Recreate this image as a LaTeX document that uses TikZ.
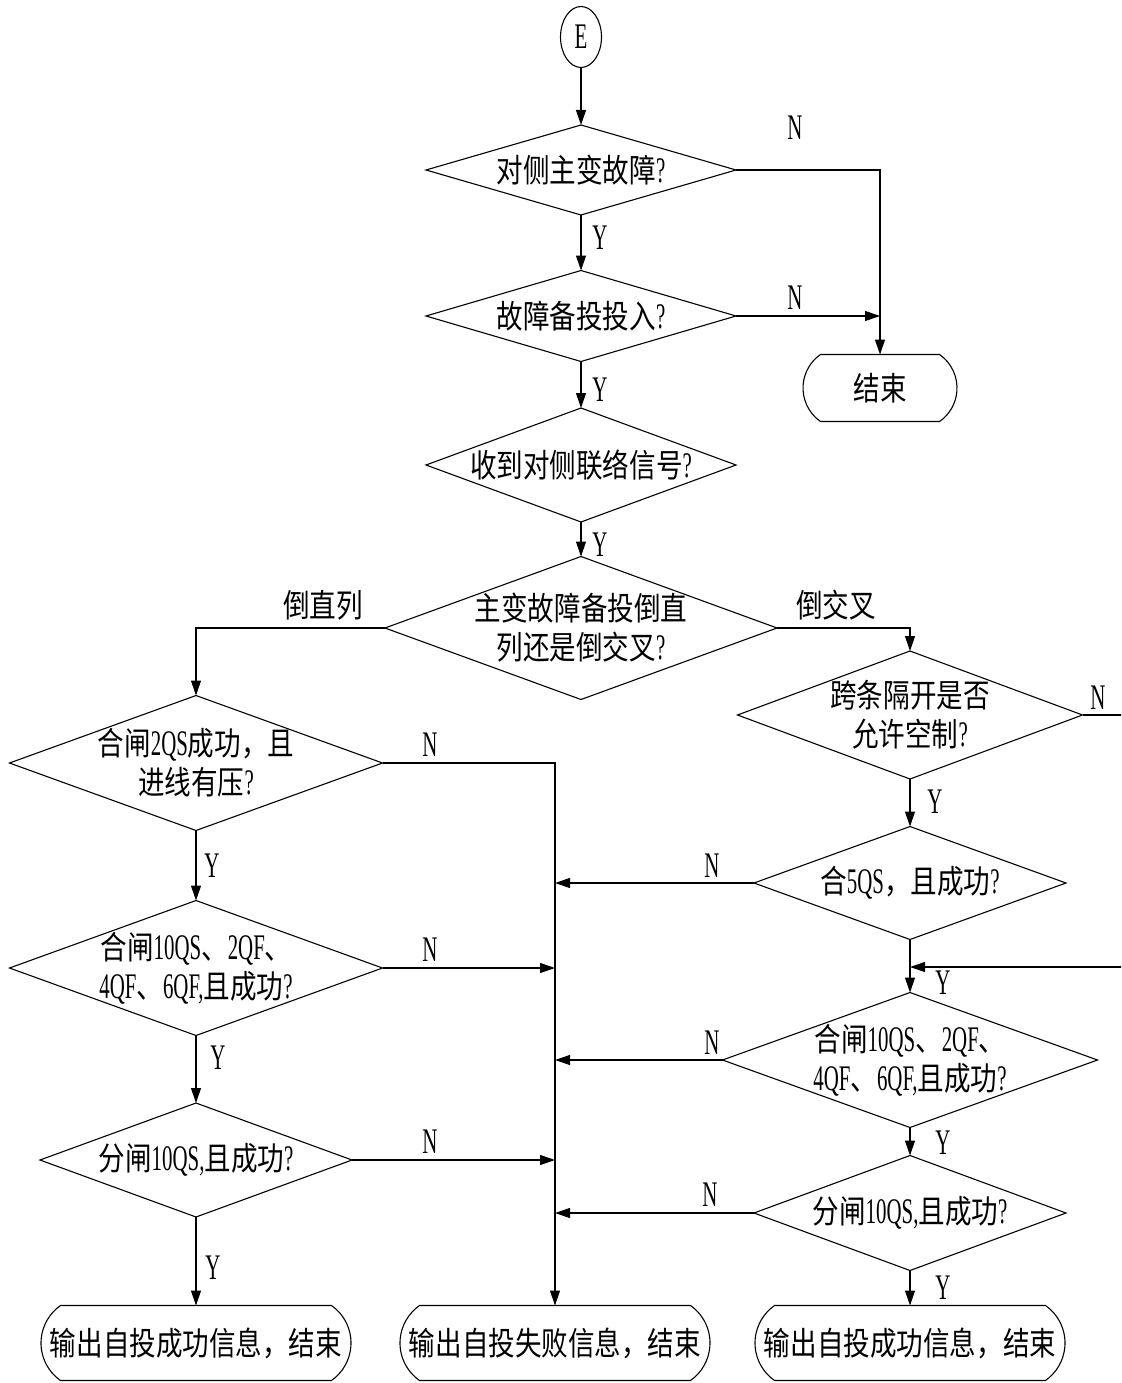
\documentclass[tikz,border=0pt]{standalone}
\usepackage{fontspec}
\setmainfont{Liberation Serif}[FakeStretch=0.58]
\newfontfamily\cjkf{Noto Sans CJK SC}[FakeStretch=0.82,Scale=0.9]
\newcommand\zh[1]{{\cjkf #1}}
\usetikzlibrary{shapes.geometric,shapes.misc,arrows.meta}

\tikzset{
  base/.style={draw=black, line width=1.1pt, inner sep=0pt, outer sep=0pt},
  dia/.style 2 args={base, diamond, minimum width=#1, minimum height=#2},
  stad/.style 2 args={base, rounded rectangle, rounded rectangle arc length=110,
                      minimum width=#1, minimum height=#2},
  txt/.style={font=\fontsize{36}{39}\selectfont, align=center, inner sep=0pt},
  yn/.style={font=\fontsize{36}{39}\selectfont, inner sep=0pt},
  arr/.style={line width=1.1pt, -{Triangle[length=15pt,width=10pt]}},
}

\begin{document}
\begin{tikzpicture}[x=1pt,y=-1pt]
\useasboundingbox (0,0) rectangle (1121,1383);
\fill[white] (0,0) rectangle (1121,1383);
\clip (0,0) rectangle (1121,1383);

% start terminal
\node[base, ellipse, minimum width=41, minimum height=61, txt] (E) at (581,37) {E};

% main column
\node[dia={310}{90}, label={[txt]center:{\zh{对侧主变故障}?}}] (D1) at (581,170) {};
\node[dia={310}{91}, label={[txt]center:{\zh{故障备投投入}?}}] (D2) at (581,316) {};
\node[dia={310}{114}, label={[txt]center:{\zh{收到对侧联络信号}?}}] (D3) at (581,465) {};
\node[dia={392}{143}, label={[txt]center:{\zh{主变故障备投倒直}\\\zh{列还是倒交叉}?}}] (D4) at (581,628) {};
\node[stad={154}{67}, label={[txt]center:{\zh{结束}}}] (End) at (880,388) {};

% left branch
\node[dia={373}{135}, label={[txt]center:{\zh{合闸}2QS\zh{成功，且}\\\zh{进线有压}?}}] (L1) at (196,763) {};
\node[dia={373}{135}, label={[txt]center:{\zh{合闸}10QS\zh{、}2QF\zh{、}\\4QF\zh{、}6QF,\zh{且成功}?}}] (L2) at (196,968) {};
\node[dia={312}{114}, label={[txt]center:{\zh{分闸}10QS,\zh{且成功}?}}] (L3) at (196,1160) {};

% right branch
\node[dia={345}{128}, label={[txt]center:{\zh{跨条隔开是否}\\\zh{允许空制}?}}] (R1) at (910,715) {};
\node[dia={312}{113}, label={[txt]center:{\zh{合}5QS\zh{，且成功}?}}] (R2) at (910,883) {};
\node[dia={375}{135}, label={[txt]center:{\zh{合闸}10QS\zh{、}2QF\zh{、}\\4QF\zh{、}6QF,\zh{且成功}?}}] (R3) at (910,1060) {};
\node[dia={312}{115}, label={[txt]center:{\zh{分闸}10QS,\zh{且成功}?}}] (R4) at (910,1213) {};

% end boxes
\node[stad={310}{75}, label={[txt]center:{\zh{输出自投成功信息，结束}}}] (OkL) at (196,1343) {};
\node[stad={310}{75}, label={[txt]center:{\zh{输出自投失败信息，结束}}}] (Fail) at (555,1343) {};
\node[stad={310}{75}, label={[txt]center:{\zh{输出自投成功信息，结束}}}] (OkR) at (910,1343) {};

\coordinate (J) at (910,967);

% connectors of the main column
\draw[arr] (E.south) -- (D1.north);
\draw[arr] (D1.south) -- (D2.north);
\draw[arr] (D2.south) -- (D3.north);
\draw[arr] (D3.south) -- (D4.north);
\draw[arr] (D1.east) -| (End.north);
\draw[arr] (D2.east) -- (D2.east -| End.north);
\draw[arr] (D4.west) -| (L1.north);
\draw[arr] (D4.east) -| (R1.north);

% connectors of the left branch
\draw[arr] (L1.south) -- (L2.north);
\draw[arr] (L2.south) -- (L3.north);
\draw[arr] (L3.south) -- (OkL.north);
\draw[arr] (L1.east) -| (Fail.north);
\draw[arr] (L2.east) -- (L2.east -| Fail.north);
\draw[arr] (L3.east) -- (L3.east -| Fail.north);

% connectors of the right branch
\draw[arr] (R1.south) -- (R2.north);
\draw[arr] (R2.south) -- (R3.north);
\draw[arr] (R3.south) -- (R4.north);
\draw[arr] (R4.south) -- (OkR.north);
\draw[arr] (R1.east) -- ++(60,0) |- (J);
\draw[arr] (R2.west) -- (R2.west -| Fail.north);
\draw[arr] (R3.west) -- (R3.west -| Fail.north);
\draw[arr] (R4.west) -- (R4.west -| Fail.north);

% branch labels
\node[yn] (n1) at (795,128) {N};
\node[yn] (y1) at (600,238) {Y};
\node[yn] (n2) at (795,298) {N};
\node[yn] (y2) at (600,390) {Y};
\node[yn] (y3) at (600,545) {Y};
\node[yn] (bz) at (323,605) {\zh{倒直列}};
\node[yn] (bj) at (836,605) {\zh{倒交叉}};
\node[yn] (nr1) at (1098,698) {N};
\node[yn] (nl1) at (430,745) {N};
\node[yn] (yl1) at (212,866) {Y};
\node[yn] (yr1) at (935,802) {Y};
\node[yn] (nr2) at (712,866) {N};
\node[yn] (yr2) at (943,983) {Y};
\node[yn] (nl2) at (430,950) {N};
\node[yn] (nr3) at (712,1043) {N};
\node[yn] (yl2) at (218,1058) {Y};
\node[yn] (yr3) at (943,1143) {Y};
\node[yn] (nl3) at (430,1142) {N};
\node[yn] (nr4) at (710,1195) {N};
\node[yn] (yl3) at (213,1268) {Y};
\node[yn] (yr4) at (943,1288) {Y};
\end{tikzpicture}
\end{document}
